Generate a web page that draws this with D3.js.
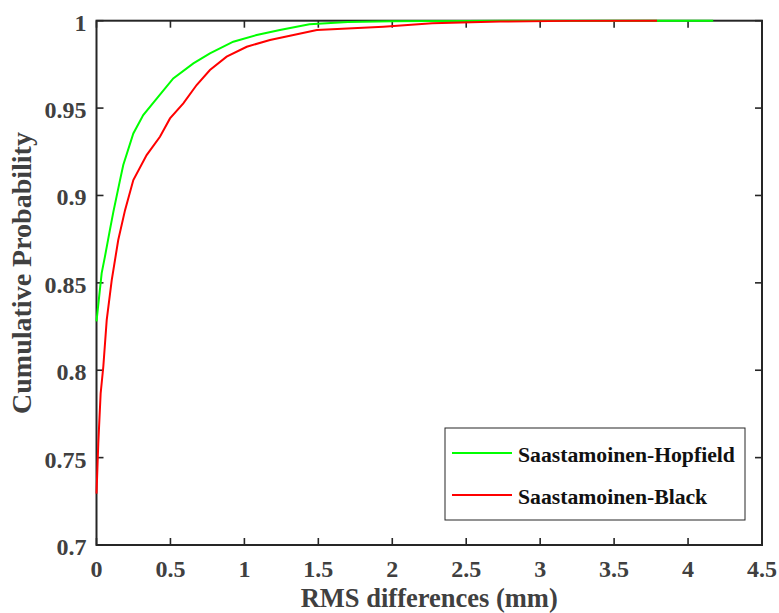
<!DOCTYPE html>
<html><head><meta charset="utf-8">
<script src="https://cdn.jsdelivr.net/npm/d3@7"></script>
<style>body{margin:0;background:#fff}svg{display:block}text{font-family:"Liberation Serif","Times New Roman",serif;font-weight:bold}</style>
</head><body><svg id="c" width="779" height="613"></svg>
<script>
const xTicks = [0,0.5,1,1.5,2,2.5,3,3.5,4,4.5];
const yTicks = [0.7,0.75,0.8,0.85,0.9,0.95,1];
const seriesNames = ["Saastamoinen-Hopfield","Saastamoinen-Black"];
const seriesColors = ["#00ff00","#ff0000"];
const hopfieldX = [0,0.035,0.057,0.09,0.114,0.159,0.181,0.249,0.316,0.418,0.519,0.655,0.767,0.925,1.083,1.24,1.44,1.7,2.0,2.5,3.0,3.5,4.17];
const hopfieldP = [0.828,0.8556,0.865,0.880,0.8906,0.9088,0.9174,0.9355,0.946,0.9565,0.967,0.9756,0.9813,0.988,0.9918,0.9947,0.998,0.9992,0.9997,0.9999,1,1,1];
const blackX = [0,0.012,0.028,0.046,0.069,0.103,0.147,0.193,0.249,0.339,0.429,0.497,0.587,0.677,0.767,0.88,1.016,1.173,1.308,1.49,1.94,2.27,2.73,3.2,3.79];
const blackP = [0.7294,0.758,0.7867,0.802,0.8287,0.8516,0.8745,0.8916,0.9088,0.9231,0.9336,0.9441,0.9527,0.9632,0.9718,0.9794,0.9851,0.989,0.9914,0.9947,0.9966,0.9985,0.9995,0.9999,1];

const svg = d3.select("#c");
const L=96.5,R=762,T=20.7,B=545;
const x = d3.scaleLinear().domain([0,4.5]).range([L,R]);
const y = d3.scaleLinear().domain([0.7,1]).range([B,T]);
const axisCol="#262626", labCol="#404040";

const line = d3.line().x(d=>x(d[0])).y(d=>y(d[1]));
const data = [d3.zip(hopfieldX,hopfieldP), d3.zip(blackX,blackP)];

// box with ticks
const g = svg.append("g").attr("stroke",axisCol);
g.append("rect").attr("x",L).attr("y",T).attr("width",R-L).attr("height",B-T).attr("fill","none").attr("stroke-width",2);
xTicks.forEach(v=>{
  g.append("line").attr("x1",x(v)).attr("x2",x(v)).attr("y1",B).attr("y2",B-7).attr("stroke-width",1.6);
  g.append("line").attr("x1",x(v)).attr("x2",x(v)).attr("y1",T).attr("y2",T+7).attr("stroke-width",1.6);
});
yTicks.forEach(v=>{
  g.append("line").attr("x1",L).attr("x2",L+7).attr("y1",y(v)).attr("y2",y(v)).attr("stroke-width",1.6);
  g.append("line").attr("x1",R).attr("x2",R-7).attr("y1",y(v)).attr("y2",y(v)).attr("stroke-width",1.6);
});
// curves on top of the frame
data.forEach((d,i)=>{
  svg.append("path").attr("d",line(d)).attr("fill","none").attr("stroke",seriesColors[i]).attr("stroke-width",2);
});

// tick labels
svg.selectAll(".xl").data(xTicks).enter().append("text")
  .attr("x",d=>x(d)).attr("y",B+32).attr("text-anchor","middle")
  .attr("font-size",24).attr("fill",labCol).text(d=>d);
svg.selectAll(".yl").data(yTicks).enter().append("text")
  .attr("x",L-10).attr("y",d=>y(d)+10).attr("text-anchor","end")
  .attr("font-size",24).attr("fill",labCol).text(d=>d);

// axis titles
svg.append("text").attr("x",(L+R)/2).attr("y",607).attr("text-anchor","middle")
  .attr("font-size",26.5).attr("fill",labCol).text("RMS differences (mm)");
svg.append("text").attr("transform",`translate(31,273) rotate(-90)`).attr("text-anchor","middle")
  .attr("font-size",28).attr("fill",labCol).text("Cumulative Probability");

// legend
const lg = svg.append("g");
lg.append("rect").attr("x",445).attr("y",428).attr("width",300).attr("height",92)
  .attr("fill","#fff").attr("stroke",axisCol).attr("stroke-width",1);
seriesNames.forEach((n,i)=>{
  const yy = 453 + i*42;
  lg.append("line").attr("x1",452).attr("x2",512).attr("y1",yy).attr("y2",yy)
    .attr("stroke",seriesColors[i]).attr("stroke-width",2);
  lg.append("text").attr("x",518).attr("y",yy+8.5).attr("font-size",21.7).attr("fill","#111").text(n);
});
</script></body></html>
